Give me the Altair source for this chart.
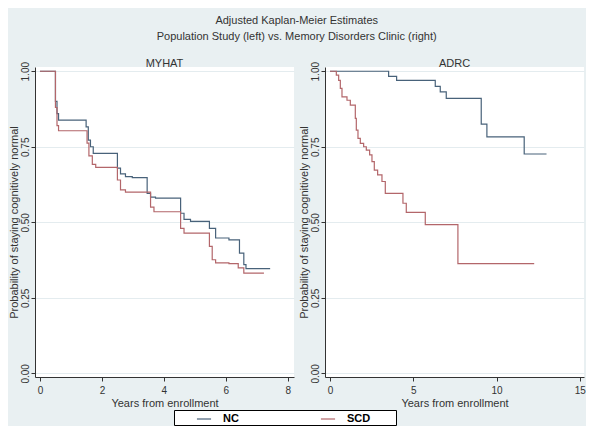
import altair as alt
import pandas as pd

# ---- data ----
myhat_nc_t = [0, 0.5, 0.55, 0.6, 1.49, 1.56, 1.63, 1.72, 2.5, 2.6, 2.76, 2.98, 3.46, 3.57, 3.73,
              4.54, 4.65, 4.86, 5.47, 5.67, 6.1, 6.44, 6.58, 6.65, 7.43]
myhat_nc_s = [1.0, 0.9, 0.86, 0.838, 0.816, 0.772, 0.75, 0.728, 0.679, 0.66, 0.651, 0.648, 0.596, 0.583, 0.58,
              0.53, 0.51, 0.503, 0.48, 0.448, 0.442, 0.398, 0.36, 0.347, 0.347]

myhat_scd_t = [0, 0.5, 0.55, 0.6, 1.52, 1.58, 1.69, 1.8, 2.5, 2.6, 2.76, 3.57, 3.68, 4.54, 4.65,
               5.47, 5.56, 5.67, 6.1, 6.4, 6.58, 7.23]
myhat_scd_s = [1.0, 0.88, 0.82, 0.803, 0.762, 0.72, 0.692, 0.682, 0.64, 0.607, 0.6, 0.55, 0.535, 0.48, 0.464,
               0.42, 0.376, 0.366, 0.363, 0.349, 0.332, 0.332]

adrc_nc_t = [0, 3.52, 4.0, 6.32, 6.62, 6.98, 9.08, 9.42, 11.66, 13.0]
adrc_nc_s = [1.0, 0.983, 0.97, 0.95, 0.932, 0.91, 0.825, 0.783, 0.726, 0.726]

adrc_scd_t = [0, 0.38, 0.52, 0.62, 0.72, 1.02, 1.22, 1.52, 1.58, 1.68, 1.82, 2.02, 2.18, 2.38, 2.52,
              2.66, 2.86, 3.12, 3.32, 4.38, 4.58, 5.72, 7.68, 12.26]
adrc_scd_s = [1.0, 0.987, 0.97, 0.943, 0.915, 0.904, 0.888, 0.844, 0.805, 0.778, 0.761, 0.75, 0.739, 0.723, 0.701,
              0.673, 0.657, 0.635, 0.596, 0.563, 0.533, 0.492, 0.363, 0.363]

groups = ["NC", "SCD"]
y_ticks = [0, 0.25, 0.5, 0.75, 1.0]
myhat_x_ticks = [0, 2, 4, 6, 8]
adrc_x_ticks = [0, 5, 10, 15]

NC_COLOR = "#48627a"
SCD_COLOR = "#b3666a"
BG = "#e9f0f2"
INK = "#333333"
FONT = "Liberation Sans"


def frame(group, t, s):
    return pd.DataFrame({"group": group, "t": t, "s": s})


myhat_df = pd.concat([frame("NC", myhat_nc_t, myhat_nc_s), frame("SCD", myhat_scd_t, myhat_scd_s)])
adrc_df = pd.concat([frame("NC", adrc_nc_t, adrc_nc_s), frame("SCD", adrc_scd_t, adrc_scd_s)])

color = alt.Color(
    "group:N",
    scale=alt.Scale(domain=groups, range=[NC_COLOR, SCD_COLOR]),
    legend=alt.Legend(
        title=None,
        orient="none",
        legendX=139,
        legendY=343,
        direction="horizontal",
        columns=2,
        symbolType="stroke",
        symbolSize=200,
        symbolStrokeWidth=1.2,
        symbolOffset=21,
        labelOffset=11,
        labelFontWeight="bold",
        labelFontSize=11,
        labelFont=FONT,
        labelColor="#000000",
        labelExpr="datum.label + '\u2800\u2800\u2800'",
        columnPadding=36,
        padding=1,
        fillColor="#ffffff",
        strokeColor="#000000",
    ),
)


def panel(df, name, xdomain, xticks):
    return alt.Chart(df).mark_line(interpolate="step-after", strokeWidth=1.2).encode(
        x=alt.X(
            "t:Q",
            title="Years from enrollment",
            scale=alt.Scale(domain=xdomain, nice=False, zero=False),
            axis=alt.Axis(values=xticks, grid=False, format="d", labelPadding=4, titlePadding=2),
        ),
        y=alt.Y(
            "s:Q",
            title="Probability of staying cognitively normal",
            scale=alt.Scale(domain=[-0.012, 1.014], nice=False, zero=False),
            axis=alt.Axis(values=y_ticks, format=".2f", labelAngle=-90, labelAlign="center",
                          labelBaseline="bottom", grid=True, gridColor="#e4ecef",
                          labelPadding=1, titlePadding=1),
        ),
        color=color,
    ).properties(
        width=259,
        height=310,
        title=alt.TitleParams(name, fontSize=11, font=FONT, color=INK, fontWeight="normal", offset=-8),
    )


left = panel(myhat_df, "MYHAT", [-0.16, 8.2], myhat_x_ticks)
right = panel(adrc_df, "ADRC", [-0.3, 15.25], adrc_x_ticks)

chart = alt.hconcat(left, right, spacing=4).properties(
    title=alt.TitleParams(
        "Adjusted Kaplan-Meier Estimates",
        subtitle="Population Study (left) vs. Memory Disorders Clinic (right)",
        anchor="middle",
        fontSize=11,
        subtitleFontSize=11,
        font=FONT,
        subtitleFont=FONT,
        color=INK,
        subtitleColor=INK,
        fontWeight="normal",
        subtitlePadding=5,
        offset=16,
    ),
    background=BG,
    padding={"left": 0, "top": 7, "right": 0, "bottom": 0},
).configure_view(
    fill="#ffffff", strokeWidth=0
).configure_axis(
    labelFont=FONT, titleFont=FONT, labelFontSize=10, titleFontSize=11,
    labelColor=INK, titleColor=INK, domainColor=INK, tickColor=INK,
    tickSize=4, titleFontWeight="normal",
)

chart.save("out.html", embed_options={"renderer": "svg", "actions": False})
